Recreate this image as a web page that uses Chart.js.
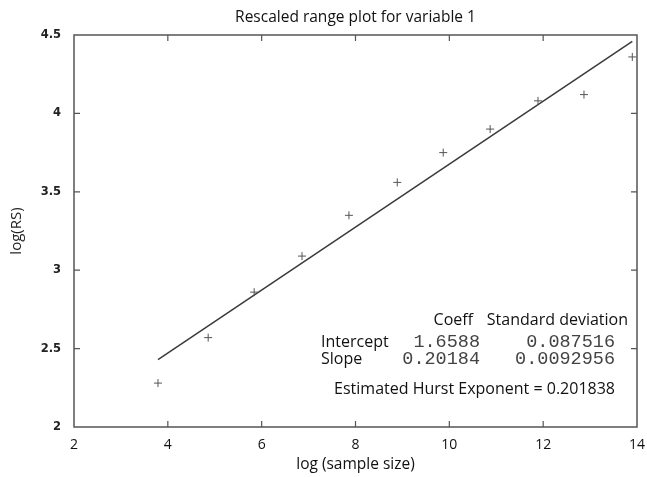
<!DOCTYPE html>
<html>
<head>
<meta charset="utf-8">
<script src="https://cdn.jsdelivr.net/npm/chart.js@4"></script>
<style>
  body { margin: 0; background: #fff; }
  canvas { display: block; }
</style>
</head>
<body>
<canvas id="rsChart" width="647" height="477"></canvas>
<script>
// data
const logSize = [3.79, 4.86, 5.84, 6.86, 7.86, 8.89, 9.87, 10.87, 11.89, 12.87, 13.9];
const logRS = [2.28, 2.57, 2.86, 3.09, 3.35, 3.56, 3.75, 3.90, 4.08, 4.12, 4.36];
const fitX = [3.79, 13.9];
const fitY = [2.43, 4.46];
const xTicks = [2, 4, 6, 8, 10, 12, 14];
const yTicks = [2, 2.5, 3, 3.5, 4, 4.5];

// regression table
const tableHeader = ['Coeff', 'Standard deviation'];
const tableRows = ['Intercept', 'Slope'];
const coeffs = ['1.6588', '0.20184'];
const stdDevs = ['0.087516', '0.0092956'];
const hurstText = 'Estimated Hurst Exponent = 0.201838';

const points = logSize.map((x, i) => ({ x: x, y: logRS[i] }));
const fitLine = fitX.map((x, i) => ({ x: x, y: fitY[i] }));

const textFont = '16px "Open Sans", sans-serif';
const monoFont = '18.5px "Liberation Mono", monospace';

// frame with inward ticks, plus the regression table
const framePlugin = {
    id: 'frame',
    afterDraw(chart) {
        const ctx = chart.ctx;
        const a = chart.chartArea;
        const xs = chart.scales.x;
        const ys = chart.scales.y;
        ctx.save();
        ctx.strokeStyle = '#555';
        ctx.lineWidth = 1.5;
        ctx.strokeRect(a.left, a.top, a.right - a.left, a.bottom - a.top);

        ctx.lineWidth = 1.2;
        ctx.beginPath();
        xTicks.slice(1, -1).forEach(v => {
            const px = xs.getPixelForValue(v);
            ctx.moveTo(px, a.bottom); ctx.lineTo(px, a.bottom - 6);
            ctx.moveTo(px, a.top); ctx.lineTo(px, a.top + 6);
        });
        yTicks.slice(1, -1).forEach(v => {
            const py = ys.getPixelForValue(v);
            ctx.moveTo(a.left, py); ctx.lineTo(a.left + 6, py);
            ctx.moveTo(a.right, py); ctx.lineTo(a.right - 6, py);
        });
        ctx.stroke();

        ctx.fillStyle = '#111';
        ctx.textBaseline = 'middle';
        ctx.font = textFont;
        ctx.textAlign = 'right';
        ctx.fillText(tableHeader[0], a.right - 164, a.bottom - 107);
        ctx.fillText(tableHeader[1], a.right - 9, a.bottom - 107);
        ctx.textAlign = 'left';
        ctx.fillText(tableRows[0], a.right - 316, a.bottom - 85);
        ctx.fillText(tableRows[1], a.right - 316, a.bottom - 68);
        ctx.textAlign = 'right';
        ctx.fillText(hurstText, a.right - 22, a.bottom - 38);

        ctx.font = monoFont;
        ctx.fillStyle = '#444';
        coeffs.forEach((c, i) => ctx.fillText(c, a.right - 157, a.bottom - 85 + i * 17));
        stdDevs.forEach((s, i) => ctx.fillText(s, a.right - 22, a.bottom - 85 + i * 17));
        ctx.restore();
    }
};

const ctx = document.getElementById('rsChart').getContext('2d');
const rsChart = new Chart(ctx, {
    type: 'scatter',
    data: {
        datasets: [{
            label: 'log(RS)',
            data: points,
            pointStyle: 'cross',
            pointRadius: 4,
            pointBorderWidth: 1,
            borderColor: '#555',
            backgroundColor: '#555'
        }, {
            label: 'fit',
            data: fitLine,
            showLine: true,
            pointRadius: 0,
            borderColor: '#3a3a3a',
            borderWidth: 1.5
        }]
    },
    options: {
        responsive: false,
        animation: false,
        layout: {
            padding: { left: 0, right: 10, top: 0, bottom: 0 }
        },
        plugins: {
            legend: { display: false },
            tooltip: { enabled: false },
            title: {
                display: true,
                fullSize: false,
                text: 'Rescaled range plot for variable 1',
                color: '#111',
                font: { family: '"Open Sans", sans-serif', size: 15.5, weight: 'normal', lineHeight: 1.2 },
                padding: { top: 8, bottom: 8.4 }
            }
        },
        scales: {
            x: {
                type: 'linear',
                min: 2,
                max: 14,
                afterBuildTicks: axis => { axis.ticks = xTicks.map(v => ({ value: v })); },
                afterFit: axis => { axis.height = 50; axis.paddingRight = 0; axis.paddingLeft = 0; },
                grid: { display: false, drawTicks: false },
                border: { display: false },
                ticks: {
                    padding: 10,
                    color: '#111',
                    font: { family: '"Open Sans", sans-serif', size: 14 },
                    callback: v => String(v)
                },
                title: {
                    display: true,
                    text: 'log (sample size)',
                    color: '#111',
                    font: { family: '"Open Sans", sans-serif', size: 15.5 },
                    padding: { top: 3, bottom: 3 }
                }
            },
            y: {
                type: 'linear',
                min: 2,
                max: 4.5,
                afterBuildTicks: axis => { axis.ticks = yTicks.map(v => ({ value: v })); },
                afterFit: axis => { axis.width = 74; },
                grid: { display: false, drawTicks: false },
                border: { display: false },
                ticks: {
                    padding: 13,
                    color: '#222',
                    font: { family: '"DejaVu Sans", sans-serif', size: 11.5, weight: 'bold' },
                    callback: v => String(v)
                },
                title: {
                    display: true,
                    text: 'log(RS)',
                    color: '#222',
                    font: { family: '"Open Sans", sans-serif', size: 15 },
                    padding: { top: 8, bottom: 0 }
                }
            }
        }
    },
    plugins: [framePlugin]
});
</script>
</body>
</html>
